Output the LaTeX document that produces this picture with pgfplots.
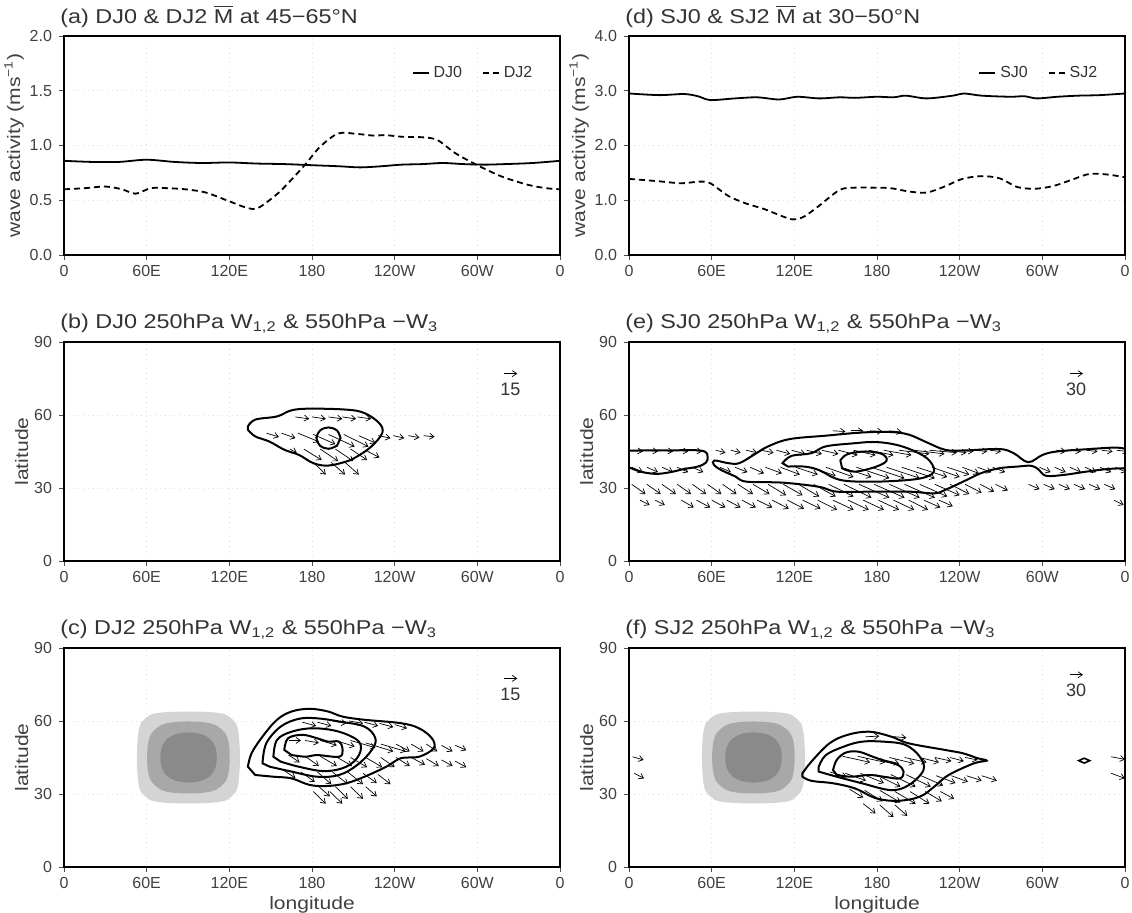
\documentclass[border=0pt]{standalone}
\usepackage{pgfplots}
\pgfplotsset{compat=1.18}
\usepackage{fontspec}
\setmainfont{Liberation Sans}
\newfontfamily\wfont{Liberation Sans}[FakeStretch=1.17]
\usetikzlibrary{arrows.meta}
\newcommand\tfont{\fontsize{8}{9.6}\selectfont}
\newcommand\ttfont{\fontsize{10}{12}\wfont}
\newcommand\lfont{\fontsize{9}{11}\wfont}
\definecolor{shA}{gray}{0.83}
\definecolor{shB}{gray}{0.66}
\definecolor{shC}{gray}{0.54}
\tikzset{
 warr/.style={black, line width=0.35pt, -{Straight Barb[length=2.2pt,width=3pt]}},
 cont/.style={black, line width=1pt, smooth, tension=0.6},
}
\pgfplotsset{
 base/.style={width=248pt,height=109.5pt,scale only axis,
  xmin=0,xmax=360,xtick={0,60,...,360},xticklabels={0,60E,120E,180,120W,60W,0},
  tick align=outside, xtick pos=bottom, ytick pos=left,
  axis line style={line width=1pt}, major tick length=2.5pt,
  tick style={black!70,line width=0.4pt},
  grid=major, grid style={black!12,dotted},
  tick label style={font=\tfont,text=black!75},
  label style={font=\lfont,text=black!75},
  xticklabel style={yshift=1pt},
  /pgf/number format/assume math mode=true,
  title style={at={(0,1)},anchor=south west,inner sep=0pt,yshift=-2pt,xshift=-2pt,font=\ttfont,text=black!80},
  ylabel style={yshift=-4pt},
  xlabel style={yshift=3pt},
 },
 lineax/.style={base, ylabel={wave activity (ms\textsuperscript{−1})},
  yticklabel style={/pgf/number format/.cd,fixed,fixed zerofill,precision=1},
  legend style={at={(0.965,0.83)},anchor=east,draw=none,fill=none,font=\tfont,text=black!80,
    legend columns=2,/tikz/every even column/.append style={column sep=8pt}},
  legend image code/.code={\draw[#1] (0pt,0pt) -- (8pt,0pt);},
 },
 mapax/.style={base, ymin=0,ymax=90,ytick={0,30,60,90},ylabel={latitude}},
}
\begin{document}
\begin{tikzpicture}
\path[use as bounding box] (0,0) rectangle (566pt,-456.5pt);
% ---------------- (a)
\begin{axis}[lineax, at={(32pt,-18pt)}, anchor=north west, ymin=0,ymax=2,ytick={0,0.5,...,2},
 title={(a) DJ0 \& DJ2 \ensuremath{\overline{\hbox{M}}} at 45−65°N}]
\addplot[black,line width=0.9pt,smooth] table {
0 0.86
20 0.85
40 0.85
60 0.87
80 0.85
100 0.84
120 0.845
140 0.835
160 0.83
180 0.82
200 0.81
215 0.80
230 0.81
245 0.825
260 0.83
275 0.84
290 0.83
305 0.825
320 0.83
340 0.84
360 0.86
};
\addplot[black,line width=0.9pt,smooth,dash pattern=on 3pt off 2pt] table {
0 0.60
15 0.61
30 0.625
42 0.60
52 0.56
63 0.61
75 0.61
88 0.60
103 0.57
120 0.49
133 0.43
141 0.43
155 0.56
166 0.70
176 0.84
186 0.99
199 1.11
213 1.105
225 1.09
233 1.095
245 1.08
260 1.075
271 1.05
284 0.93
300 0.82
318 0.715
337 0.64
350 0.61
360 0.60
};
\legend{DJ0,DJ2}
\end{axis}
% ---------------- (d)
\begin{axis}[lineax, at={(314.5pt,-18pt)}, anchor=north west, ymin=0,ymax=4,ytick={0,1,...,4},
 title={(d) SJ0 \& SJ2 \ensuremath{\overline{\hbox{M}}} at 30−50°N}]
\addplot[black,line width=0.9pt,smooth] table {
0 2.95
22 2.92
40 2.94
50 2.90
59 2.83
77 2.86
93 2.88
109 2.84
122 2.89
138 2.86
153 2.88
164 2.87
180 2.89
192 2.88
201 2.91
216 2.86
235 2.91
243 2.95
256 2.91
277 2.89
287 2.90
296 2.86
311 2.89
326 2.91
342 2.92
360 2.95
};
\addplot[black,line width=0.9pt,smooth,dash pattern=on 3pt off 2pt] table {
0 1.39
20 1.35
38 1.31
51 1.34
59 1.31
72 1.08
85 0.94
98 0.84
111 0.71
119 0.65
127 0.70
138 0.90
153 1.19
164 1.23
177 1.23
190 1.22
203 1.16
216 1.14
229 1.25
242 1.39
256 1.44
269 1.40
282 1.24
295 1.21
308 1.26
321 1.37
334 1.48
347 1.47
360 1.42
};
\legend{SJ0,SJ2}
\end{axis}
% ---------------- (b)
\begin{axis}[mapax, at={(32pt,-171pt)}, anchor=north west,
 title={(b) DJ0 250hPa W\textsubscript{1,2} \& 550hPa −W\textsubscript{3}}]
\addplot[cont] coordinates {(133.5,55.3)(138.8,58.1)(154.6,59.4)(165,61.9)(178.4,62.6)(205,62.2)(218,60.8)(228.7,56.7)(231,52.6)(223,47)(212.6,42.9)(205,40.9)(191.6,39.2)(181,40.2)(170.5,43.6)(160,45.7)(149,49.1)(138.8,51.2)(133.5,53.9)} -- cycle;
\addplot[cont] coordinates {(200.7,50.5)(198.2,53.6)(192,54.9)(185.8,53.6)(183.3,50.5)(185.8,47.4)(192,46.1)(198.2,47.4)} -- cycle;
\addplot[warr,quiver={u=\thisrow{u},v=\thisrow{v}}] table {
x y u v
168 59.2 10 -0.8
180 59.2 10 -0.8
192 59.2 10 -0.8
202 59.2 10 -0.8
213 59.2 10 -0.8
147 52.5 9 -1.5
158 52.5 10 -2
170 52.5 15 -3.5
181 52 16 -4
192 52 19 -5
203 52 18 -5
214 51.5 12 -3
228 51.5 9 -1
239 51.5 8 -1
250 51.5 8 -0.8
261 51.5 8 -0.5
164 46 5 -1.5
174 46 13 -4.5
186 46 13 -5
197 46 13 -5
208 46 12 -4.5
219 45.5 10 -3
181 40.5 9 -5
194 40.5 10 -5
204 40.5 10 -5
};
\addplot[warr,quiver={u=\thisrow{u},v=\thisrow{v}}] table {
x y u v
319 77 10 0
};
\node[font=\fontsize{9}{10}\selectfont,text=black!80] at (axis cs:324,70.5) {15};
\end{axis}
% ---------------- (e)
\begin{axis}[mapax, at={(314.5pt,-171pt)}, anchor=north west,
 title={(e) SJ0 250hPa W\textsubscript{1,2} \& 550hPa −W\textsubscript{3}}]
\addplot[cont] coordinates {(0,45.3)(15,45.5)(30,45.4)(45,45.6)(55,45)(57,43)(56,40.5)(50,38.8)(40,37.8)(30,36.5)(20,35.8)(10,36.5)(3,37.8)(0,38.5)};
\addplot[cont] coordinates {(360,46.1)(352.6,46.6)(334.3,46)(310.7,45)(300.2,43.6)(289.7,40.6)(279.2,44.3)(268.7,46)(242.5,45.4)(229.4,45.7)(216.3,48.7)(203.2,51.9)(190,53)(169.1,52.8)(142.9,51.5)(116.7,50.1)(101,47.1)(90.5,43.6)(80,40.2)(72.1,40.2)(62,41.3)(61.6,39.5)(66.9,37.4)(77.3,34.7)(85.2,32.6)(111.4,32.2)(137.7,30.5)(150.8,28.5)(177,28.5)(203.2,28.5)(221.5,27.8)(229.4,29.2)(242.5,32.6)(255.6,36.1)(268.7,38.1)(281.9,38.8)(292.3,39.1)(297.6,37.4)(302.8,35)(316,35.4)(331.7,36.7)(347.4,37.8)(360,38.1)};
\addplot[cont] coordinates {(111.4,40.2)(118,43.2)(132.4,44.3)(142.9,47.1)(163.9,48.4)(177,48.9)(190.1,48.2)(203.2,46.1)(216.3,42.2)(221.5,37.4)(216.3,34.7)(203.2,33.3)(177,32.6)(153.4,33.3)(137.7,37.4)(127.2,38.8)(115.4,38.8)} -- cycle;
\addplot[cont] coordinates {(153.4,41.3)(158.6,43.9)(171.7,45)(183.5,44)(187,41.3)(179.6,38.8)(163.9,36.7)(154.7,38.1)} -- cycle;
\addplot[warr,quiver={u=\thisrow{u},v=\thisrow{v}}] table {
x y u v
148 53.5 9 -0.3
161 53.5 9 0
175 53.5 9 -0.3
189 53.5 9 -0.5
2 45.5 8 -0.5
13 45.5 8 -0.5
24 45.5 8 -0.5
35 45.5 8 -0.5
46 45.5 7 -0.5
63 45.5 7 -1
74 45.5 7 -1
85 45.5 8 -1
96 45.5 9 -1
107 45.5 10 -1.5
118 45.5 10 -1.5
129 45.5 11 -1.5
140 45.5 12 -1.5
152 45.5 14 -2
163 45.5 16 -2
174 45.5 18 -2
185 45.5 20 -2
196 45.5 22 -1.5
207 45.5 22 -1.5
218 45.5 20 -1
229 45.5 16 -1
240 45.5 10 -0.5
251 45.5 9 -0.5
262 45.5 8 -0.5
310 45.5 7 -0.5
321 45.5 7 -0.5
332 45.5 8 -0.5
343 45.5 8 -0.5
354 45.5 8 -0.5
2 38.5 8 -2
13 38.5 8 -2
24 38.5 8 -2
35 38.5 8 -2
46 38.5 8 -2
66 38.5 8 -2
77 38.5 9 -2
88 38.5 10 -2.5
99 38.5 12 -2.5
110 38.5 14 -3
121 38.5 16 -3
132 38.5 18 -3.5
143 38.5 20 -4
154 38.5 22 -4
165 38.5 24 -4.5
176 38.5 24 -4.5
187 38.5 24 -4.5
198 38.5 24 -4.5
209 38.5 22 -4
220 38.5 20 -4
231 38.5 16 -3
242 38.5 12 -2.5
253 38.5 10 -2
264 38.5 9 -2
298 38.5 8 -2
309 38.5 8 -2
320 38.5 8 -2
331 38.5 8 -2
342 38.5 8 -2
353 38.5 8 -2
2 31.5 10 -4
13 31.5 10 -4
24 31.5 10 -4
35 31.5 10 -4
46 31.5 10 -4
57 31.5 10 -4
68 31.5 10 -4
79 31.5 11 -4
90 31.5 12 -4
101 31.5 13 -4.5
112 31.5 14 -4.5
123 31.5 15 -5
134 31.5 16 -5
145 31.5 18 -5
156 31.5 20 -5.5
167 31.5 22 -5.5
178 31.5 22 -5.5
189 31.5 22 -5.5
200 31.5 22 -5.5
211 31.5 20 -5
222 31.5 18 -4.5
233 31.5 14 -4
244 31.5 12 -3.5
255 31.5 10 -3
266 31.5 9 -2.5
290 31.5 8 -2
301 31.5 8 -2
312 31.5 8 -2
323 31.5 8 -2
334 31.5 8 -2
345 31.5 8 -2
8 25 7 -2
19 25 7 -2
38 25 9 -3
49 25 10 -3
60 25 10 -3
71 25 10 -3
82 25 10 -3
93 25 11 -3
104 25 12 -3.5
115 25 12 -3.5
126 25 13 -3.5
137 25 14 -4
148 25 15 -4
159 25 15 -4
170 25 15 -4
181 25 15 -4
192 25 15 -4
203 25 14 -4
214 25 12 -3
225 25 10 -2.5
352 25 7 -2
};
\addplot[warr,quiver={u=\thisrow{u},v=\thisrow{v}}] table {
x y u v
320 77 9.5 0
};
\node[font=\fontsize{9}{10}\selectfont,text=black!80] at (axis cs:324.5,70.5) {30};
\end{axis}
% ---------------- (c)
\begin{axis}[mapax, at={(32pt,-324pt)}, anchor=north west, xlabel={longitude},
 title={(c) DJ2 250hPa W\textsubscript{1,2} \& 550hPa −W\textsubscript{3}}]
\addplot[fill=shA,draw=none,smooth cycle,tension=0.6] coordinates {(127.7,45)(126.2,56.7)(121.8,60.9)(113.5,63.2)(90.3,63.9)(67.1,63.2)(58.8,60.9)(54.4,56.7)(52.9,45)(54.4,33.3)(58.8,29.1)(67.1,26.8)(90.3,26.1)(113.5,26.8)(121.8,29.1)(126.2,33.3)};
\addplot[fill=shB,draw=none,smooth cycle,tension=0.6] coordinates {(120.3,45)(118.8,52.8)(114.1,56.75)(106.1,59.05)(90.3,59.8)(74.5,59.05)(66.5,56.75)(61.8,52.8)(60.3,45)(61.8,37.2)(66.5,33.25)(74.5,30.95)(90.3,30.2)(106.1,30.95)(114.1,33.25)(118.8,37.2)};
\addplot[fill=shC,draw=none,smooth cycle,tension=0.6] coordinates {(110.9,45)(109.6,49.6)(105.8,52.7)(99.6,54.6)(90.4,55.3)(81.2,54.6)(75,52.7)(71.2,49.6)(69.9,45)(71.2,40.4)(75,37.3)(81.2,35.4)(90.4,34.7)(99.6,35.4)(105.8,37.3)(109.6,40.4)};
\addplot[cont] coordinates {(133.5,41.2)(136.1,46.7)(144.1,53.6)(154.6,60.5)(165.2,63.9)(178.4,65)(191.6,63.9)(202.2,61.8)(218.1,60.5)(244.5,59.1)(257.7,57)(267,52.9)(268.3,48.8)(257.7,45.3)(244.5,44.7)(233.9,41.2)(218.1,37.1)(204.9,34.4)(191.6,33.3)(178.4,33.7)(165.2,36.4)(152,37.1)(138.8,37.8)} -- cycle;
\addplot[cont] coordinates {(144.1,42.6)(146.8,50.8)(157.3,57.7)(170.5,60.9)(183.7,61.1)(199.6,59.8)(218.1,57.7)(226,52.9)(223.4,48.1)(212.8,41.9)(199.6,37.8)(183.7,37.1)(165.2,39.2)(149.4,41.2)} -- cycle;
\addplot[cont] coordinates {(152,45.3)(154.6,52.2)(165.2,55.6)(181,57)(199.6,55.6)(214.1,51.5)(214.1,46)(204.9,41.2)(189,39.4)(170.5,41.2)(157.3,43.3)} -- cycle;
\addplot[cont] coordinates {(159.9,48.1)(162.6,52.9)(173.1,54.3)(183.7,52.9)(191.6,51.5)(199.6,51.5)(202.2,48.1)(199.6,45.3)(183.7,46)(175.8,45.3)(165.2,46)} -- cycle;
\addplot[warr,quiver={u=\thisrow{u},v=\thisrow{v}}] table {
x y u v
173 59.5 10 -1.5
184 59.5 10 -1.5
195 60 10 -1
207 60 10 -1
218 59.5 10 -1.5
229 59 10 -1.5
240 58.5 9 -1.5
163 52 9 0
175 52 10 -1
186 52 12 -2
197 52 14 -2.5
208 52 18 -3
219 51 20 -3.5
230 50.5 18 -3
241 50.5 10 -3
252 50.5 9 -3
263 50.5 8 -3
274 50 8 -2.5
284 50 8 -2
163 46 8 -3
175 45.5 10 -4
186 45.5 12 -4
197 45.5 12 -4
208 45 12 -4
219 45 12 -4
230 45 10 -4
241 45 10 -3.5
252 45 10 -3
263 44.5 9 -3
274 44 8 -2.5
284 43.5 8 -2.5
160 39.5 8 -3
172 39 10 -4
184 39 10 -5
195 39 11 -5
206 39 11 -5
217 38.5 10 -4
228 38 9 -4
185 33 8 -4
197 33 9 -5
208 33 9 -5
219 33 8 -4
181 31 9 -5
193 31 9 -5
};
\addplot[warr,quiver={u=\thisrow{u},v=\thisrow{v}}] table {
x y u v
319 77.5 10 0
};
\node[font=\fontsize{9}{10}\selectfont,text=black!80] at (axis cs:324,71) {15};
\end{axis}
% ---------------- (f)
\begin{axis}[mapax, at={(314.5pt,-324pt)}, anchor=north west, xlabel={longitude},
 title={(f) SJ2 250hPa W\textsubscript{1,2} \& 550hPa −W\textsubscript{3}}]
\addplot[fill=shA,draw=none,smooth cycle,tension=0.6] coordinates {(127.7,45)(126.2,56.7)(121.8,60.9)(113.5,63.2)(90.3,63.9)(67.1,63.2)(58.8,60.9)(54.4,56.7)(52.9,45)(54.4,33.3)(58.8,29.1)(67.1,26.8)(90.3,26.1)(113.5,26.8)(121.8,29.1)(126.2,33.3)};
\addplot[fill=shB,draw=none,smooth cycle,tension=0.6] coordinates {(120.3,45)(118.8,52.8)(114.1,56.75)(106.1,59.05)(90.3,59.8)(74.5,59.05)(66.5,56.75)(61.8,52.8)(60.3,45)(61.8,37.2)(66.5,33.25)(74.5,30.95)(90.3,30.2)(106.1,30.95)(114.1,33.25)(118.8,37.2)};
\addplot[fill=shC,draw=none,smooth cycle,tension=0.6] coordinates {(110.9,45)(109.6,49.6)(105.8,52.7)(99.6,54.6)(90.4,55.3)(81.2,54.6)(75,52.7)(71.2,49.6)(69.9,45)(71.2,40.4)(75,37.3)(81.2,35.4)(90.4,34.7)(99.6,35.4)(105.8,37.3)(109.6,40.4)};
\addplot[cont] coordinates {(125.9,38.5)(132.4,43.3)(145.5,50.8)(158.6,54.3)(174.4,55.6)(190.1,53.6)(203.2,50.8)(229.4,48.1)(242.5,46.7)(253,44.7)(259.6,43.7)(250.4,42.6)(232,37.8)(221.5,33)(211.1,28.9)(195.3,27.2)(179.6,28.2)(163.9,32.3)(148.1,34.4)(132.4,35.4)(125.9,37.1)} -- cycle;
\addplot[cont] coordinates {(137.7,41.2)(142.9,46)(156,49.5)(169.1,51.5)(184.8,51.5)(200.6,50.2)(211.1,45.3)(213.7,39.8)(203.2,33.7)(190.1,31.6)(169.1,34.4)(150.8,37.1)(137.7,39.2)} -- cycle;
\addplot[cont] coordinates {(148.1,39.8)(150.8,44)(157.3,47)(166.5,47.4)(177,45.3)(184.8,43.7)(195.3,41.9)(199.3,39.2)(196.6,36.4)(184.8,37.1)(174.4,37.8)(161.2,37.1)(150.8,37.8)} -- cycle;
\addplot[black,line width=0.8pt] coordinates {(326.4,43.7)(330.4,44.7)(334.4,43.7)(330.4,42.7)} -- cycle;
\addplot[warr,quiver={u=\thisrow{u},v=\thisrow{v}}] table {
x y u v
171.7 53.5 10 0.3
191.4 53.6 10 -0.5
155 45.5 20 -2.5
166 45.5 20 -2.5
178 45 18 -2.5
189 45 18 -2.5
200 45 16 -2
211 45 14 -2
222 45 12 -1.5
233 45 10 -1.5
244 45 9 -1
146 39 12 -2
157 38.5 15 -3
168 38.5 17 -4
179 38 18 -5
190 38 18 -5
201 38 18 -5
212 37.5 16 -4
223 37.5 14 -3
234 37.5 12 -2.5
245 37.5 11 -2
256 37.5 11 -2
160 32 10 -3.5
171 31.5 13 -4.5
182 31.5 15 -5
193 31 15 -5
204 31 14 -5
215 31 12 -4
226 31 10 -3
170 26 9 -4
182 25.5 10 -5
193 25.5 9 -4.5
2.6 45.3 8 -1.3
3.9 38.5 7 -2.1
350 45.3 10 -1.1
350 38.5 10 -2.1
};
\addplot[warr,quiver={u=\thisrow{u},v=\thisrow{v}}] table {
x y u v
320 79 9.5 0
};
\node[font=\fontsize{9}{10}\selectfont,text=black!80] at (axis cs:324.5,72.5) {30};
\end{axis}
\end{tikzpicture}
\end{document}
